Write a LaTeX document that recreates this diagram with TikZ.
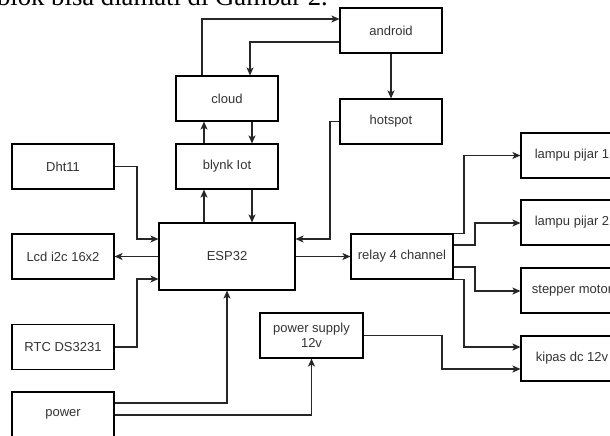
\documentclass[tikz,border=0pt]{standalone}
\usepackage{fontspec}
\setmainfont{Liberation Sans}
\newfontfamily\serifcap{Liberation Serif}
\usetikzlibrary{arrows.meta}
\tikzset{
  box/.style={draw=black, line width=1.1pt, rectangle, minimum width=102pt, minimum height=45pt, inner sep=2pt, align=center, text=black!80, font=\fontsize{13pt}{15pt}\selectfont},
  arr/.style={draw=black!85, line width=1.2pt, -{Stealth[length=8pt,width=7pt,inset=2pt]}},
  ln/.style={draw=black!85, line width=1.2pt}
}
\begin{document}
\begin{tikzpicture}[x=1pt,y=-1pt]
\useasboundingbox (0,0) rectangle (610,436);
\clip (0,0) rectangle (610,436);
\fill[white] (0,0) rectangle (610,436);
\node[anchor=base east, font=\serifcap\fontsize{26.7pt}{29pt}\selectfont, inner sep=0pt] (caption) at (328,5.5) {blok bisa diamati di Gambar 2.};

\node[box] (android) at (391,30.5) {android};
\node[box] (cloud) at (227,98.5) {cloud};
\node[box] (hotspot) at (391,121.5) {hotspot};
\node[box] (dht) at (63,166.5) {Dht11};
\node[box] (blynk) at (227,166.5) {blynk Iot};
\node[box, minimum width=136pt, minimum height=67pt] (esp) at (227,256.5) {ESP32};
\node[box] (lcd) at (63,256.5) {Lcd i2c 16x2};
\node[box] (relay) at (402,256.5) {relay 4 channel};
\node[box] (lampu1) at (572,155.5) {lampu pijar 1};
\node[box] (lampu2) at (572,222.5) {lampu pijar 2};
\node[box] (stepper) at (572,290.5) {stepper motor};
\node[box] (kipas) at (572,358.5) {kipas dc 12v};
\node[box] (rtc) at (63,347) {RTC DS3231};
\node[box, minimum width=103pt] (psu) at (311.5,335.5) {power supply\\12v};
\node[box] (power) at (63,414.5) {power};

% cloud / android / hotspot
\draw[arr] (202,0 |- cloud.north) |- (android.west |- 0,19);
\draw[arr] (android.west |- 0,42) -| (250,0 |- cloud.north);
\draw[arr] (android.south) -- (hotspot.north);
\draw[arr] (204,0 |- blynk.north) -- (204,0 |- cloud.south);
\draw[arr] (252,0 |- cloud.south) -- (252,0 |- blynk.north);
\draw[arr] (204,0 |- esp.north) -- (204,0 |- blynk.south);
\draw[arr] (252,0 |- blynk.south) -- (252,0 |- esp.north);
\draw[arr] (hotspot.west) -- (330,0 |- hotspot.west) |- (esp.east |- 0,239);

% left side
\draw[arr] (dht.east) -- (137,0 |- dht.east) |- (esp.west |- 0,239);
\draw[arr] (esp.west) -- (lcd.east);
\draw[arr] (rtc.east) -- (137,0 |- rtc.east) |- (esp.west |- 0,279);
\draw[arr] (power.east |- 0,403) -| (esp.south);
\draw[arr] (power.east |- 0,415) -| (psu.south);

% relay
\draw[arr] (esp.east) -- (relay.west);
\draw[arr] (relay.north east) -- (464,0 |- relay.north east) |- (lampu1.west);
\draw[arr] (relay.east |- 0,245) -- (475,245) |- (lampu2.west |- 0,223);
\draw[arr] (relay.east |- 0,267) -- (475,267) |- (stepper.west |- 0,291);
\draw[arr] (relay.south east) -- (464,0 |- relay.south east) |- (kipas.west |- 0,347);
\draw[arr] (psu.east) -- (442,0 |- psu.east) |- (kipas.west |- 0,369);
\end{tikzpicture}
\end{document}
